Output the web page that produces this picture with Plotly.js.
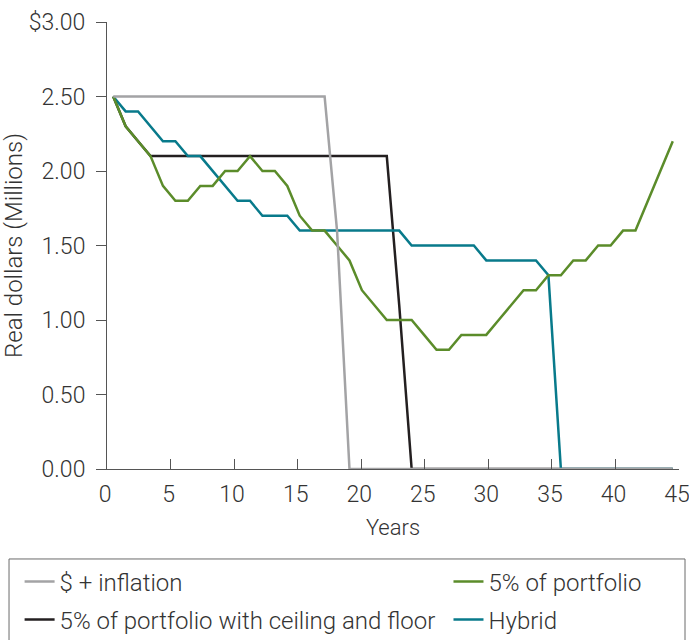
<!DOCTYPE html>
<html>
<head>
<meta charset="utf-8">
<script src="https://cdn.plot.ly/plotly-3.0.1.min.js"></script>
<style>html,body{margin:0;padding:0;background:#fff;}#chart{width:689px;height:640px;}</style>
</head>
<body>
<div id="chart"></div>
<script>
// Years of retirement (0..45)
const years = [0,1,2,3,4,5,6,7,8,9,10,11,12,13,14,15,16,17,18,19,20,21,22,23,24,25,26,27,28,29,30,31,32,33,34,35,36,37,38,39,40,41,42,43,44,45];

// Real dollars (millions)
const inflationSeries = [2.5,2.5,2.5,2.5,2.5,2.5,2.5,2.5,2.5,2.5,2.5,2.5,2.5,2.5,2.5,2.5,2.5,2.5,1.6,0,0,0,0,0,0,0,0,0,0,0,0,0,0,0,0,0,0,0,0,0,0,0,0,0,0,0];
const portfolioSeries = [2.5,2.3,2.2,2.1,1.9,1.8,1.8,1.9,1.9,2.0,2.0,2.1,2.0,2.0,1.9,1.7,1.6,1.6,1.5,1.4,1.2,1.1,1.0,1.0,1.0,0.9,0.8,0.8,0.9,0.9,0.9,1.0,1.1,1.2,1.2,1.3,1.3,1.4,1.4,1.5,1.5,1.6,1.6,1.8,2.0,2.2];
const ceilingFloorSeries = [2.5,2.3,2.2,2.1,2.1,2.1,2.1,2.1,2.1,2.1,2.1,2.1,2.1,2.1,2.1,2.1,2.1,2.1,2.1,2.1,2.1,2.1,2.1,1.1,0,0,0,0,0,0,0,0,0,0,0,0,0,0,0,0,0,0,0,0,0,0];
const hybridSeries = [2.5,2.4,2.4,2.3,2.2,2.2,2.1,2.1,2.0,1.9,1.8,1.8,1.7,1.7,1.7,1.6,1.6,1.6,1.6,1.6,1.6,1.6,1.6,1.6,1.5,1.5,1.5,1.5,1.5,1.5,1.4,1.4,1.4,1.4,1.4,1.3,0,0,0,0,0,0,0,0,0,0];

const seriesNames = ["$ + inflation", "5% of portfolio", "5% of portfolio with ceiling and floor", "Hybrid"];

const xTickVals = [0,5,10,15,20,25,30,35,40,45];
const yTickVals = [0,0.5,1,1.5,2,2.5,3];
const yTickText = ["0.00","0.50","1.00","1.50","2.00","2.50","$3.00"];

const FONT = "Roboto, 'Liberation Sans', sans-serif";
const TXT = "#333333";
const fnt = (s) => ({family: FONT, size: s, color: TXT, weight: 300});

function tr(y, name, color, legend) {
  return {
    type: "scatter", mode: "lines", x: years, y: y, name: name,
    xaxis: "x2", yaxis: "y",
    line: {color: color, width: 2.5},
    legend: legend, hoverinfo: "skip"
  };
}

const data = [
  // empty carrier so the visible year axis (xaxis) is drawn
  {type: "scatter", mode: "lines", x: [], y: [], xaxis: "x", yaxis: "y", showlegend: false, hoverinfo: "skip"},
  tr(ceilingFloorSeries, seriesNames[2], "#231f20", "legend3"),
  tr(hybridSeries, seriesNames[3], "#087a8b", "legend4"),
  tr(portfolioSeries, seriesNames[1], "#5b8c2a", "legend2"),
  tr(inflationSeries, seriesNames[0], "#a3a3a5", "legend")
];

function leg(x, y) {
  return {
    orientation: "h", xanchor: "left", yanchor: "middle", x: x, y: y,
    bgcolor: "rgba(0,0,0,0)", borderwidth: 0, font: fnt(24),
    itemclick: false, itemdoubleclick: false
  };
}

const layout = {
  width: 689, height: 640,
  margin: {l: 107, r: 10, t: 22, b: 171, autoexpand: false},
  paper_bgcolor: "#fff", plot_bgcolor: "#fff",
  font: fnt(22),
  showlegend: true,
  xaxis: {
    range: [0, 45], tickvals: xTickVals, ticks: "inside", ticklen: 10, tickcolor: "#555",
    showline: true, linecolor: "#555", linewidth: 1, showgrid: false, zeroline: false,
    tickfont: fnt(23), ticklabelstandoff: 4, ticklabelshift: -2, ticklabeloverflow: "allow",
    title: {text: "Years", font: fnt(22), standoff: 13},
    fixedrange: true
  },
  xaxis2: {
    overlaying: "x", anchor: "y", range: [-0.5, 45.5], visible: false, fixedrange: true
  },
  yaxis: {
    range: [0, 3], tickvals: yTickVals, ticktext: yTickText, ticks: "outside", ticklen: 10, tickcolor: "#555",
    showline: true, linecolor: "#555", linewidth: 1, showgrid: false, zeroline: false,
    tickfont: fnt(23), ticklabelstandoff: 6,
    title: {text: "Real dollars (Millions)", font: fnt(24), standoff: 11},
    fixedrange: true
  },
  legend: leg(-0.1528, -0.2525),
  legend2: leg(0.597, -0.2525),
  legend3: leg(-0.1528, -0.3375),
  legend4: leg(0.597, -0.3375),
  shapes: [{
    type: "rect", xref: "paper", yref: "paper",
    x0: -0.1713, x1: 1.0105, y0: -0.2013, y1: -0.42,
    line: {color: "#6a6a6a", width: 1}, fillcolor: "rgba(0,0,0,0)", layer: "below"
  }]
};

Plotly.newPlot("chart", data, layout, {displayModeBar: false, staticPlot: true});
</script>
</body>
</html>
